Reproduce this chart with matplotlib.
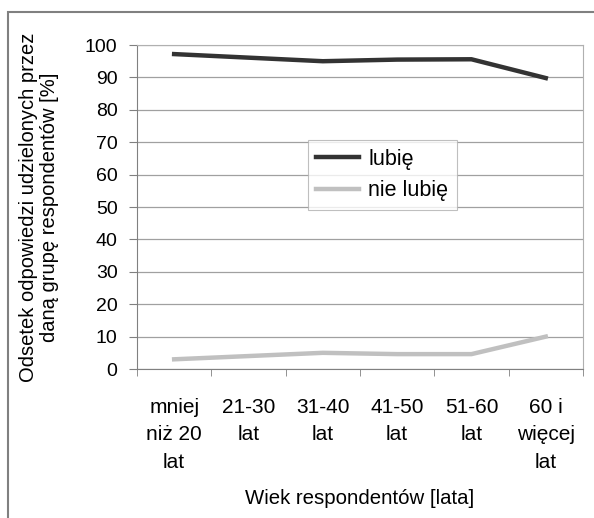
import matplotlib.pyplot as plt
from matplotlib.patches import Rectangle
import numpy as np

plt.rcParams['font.family'] = ['Liberation Sans', 'DejaVu Sans']

# data
categories = ['mniej\nniż 20\nlat', '21-30\nlat', '31-40\nlat', '41-50\nlat',
              '51-60\nlat', '60 i\nwięcej\nlat']
lubie = [97.2, 96.1, 95.0, 95.5, 95.6, 89.8]
nie_lubie = [3.0, 4.0, 5.0, 4.6, 4.6, 10.0]

fig = plt.figure(figsize=(5.94, 5.18), dpi=100)
ax = fig.add_axes([0.2306, 0.2876, 0.7508, 0.6255])

x = np.arange(len(categories))
ax.plot(x, lubie, color='#333333', linewidth=3.2, label='lubię')
ax.plot(x, nie_lubie, color='#c0c0c0', linewidth=3.2, label='nie lubię')

ax.set_xlim(-0.5, len(categories) - 0.5)
ax.set_ylim(0, 100)
ax.set_yticks(range(0, 101, 10))
ax.tick_params(axis='y', labelsize=14, length=6, color='#808080', pad=8)
ax.set_xticks(x)
ax.set_xticklabels(categories, fontsize=15, linespacing=1.55)
ax.tick_params(axis='x', which='major', length=0, pad=21)
ax.set_xticks(np.arange(-0.5, len(categories)), minor=True)
ax.tick_params(axis='x', which='minor', length=5, color='#808080')

ax.grid(axis='y', color='#a0a0a0', linewidth=0.9)
ax.set_axisbelow(True)
for side in ['top', 'right']:
    ax.spines[side].set_color('#b0b0b0')
for side in ['left', 'bottom']:
    ax.spines[side].set_color('#808080')

fig.text(39 / 594, 0.6, 'Odsetek odpowiedzi udzielonych przez\ndaną grupę respondentów [%]',
         rotation=90, ha='center', va='center', fontsize=14.5, linespacing=1.12)
ax.set_xlabel('Wiek respondentów [lata]', fontsize=14.7)
ax.xaxis.set_label_coords(0.5, -0.37)

leg = ax.legend(loc='upper left', bbox_to_anchor=(0.383, 0.707), fontsize=15.5,
                frameon=True, fancybox=False, edgecolor='#b0b0b0',
                handlelength=2.0, handletextpad=0.4, borderpad=0.4,
                labelspacing=0.5, borderaxespad=0)
leg.get_frame().set_linewidth(0.8)

# outer frame around the whole chart (right and bottom run off the picture)
fig.patches.append(Rectangle((8 / 594, -0.05), 1.0, 1 - 12 / 518 + 0.05,
                             transform=fig.transFigure, fill=False,
                             edgecolor='#808080', linewidth=1.5))

fig.savefig('out.png', dpi=100)
